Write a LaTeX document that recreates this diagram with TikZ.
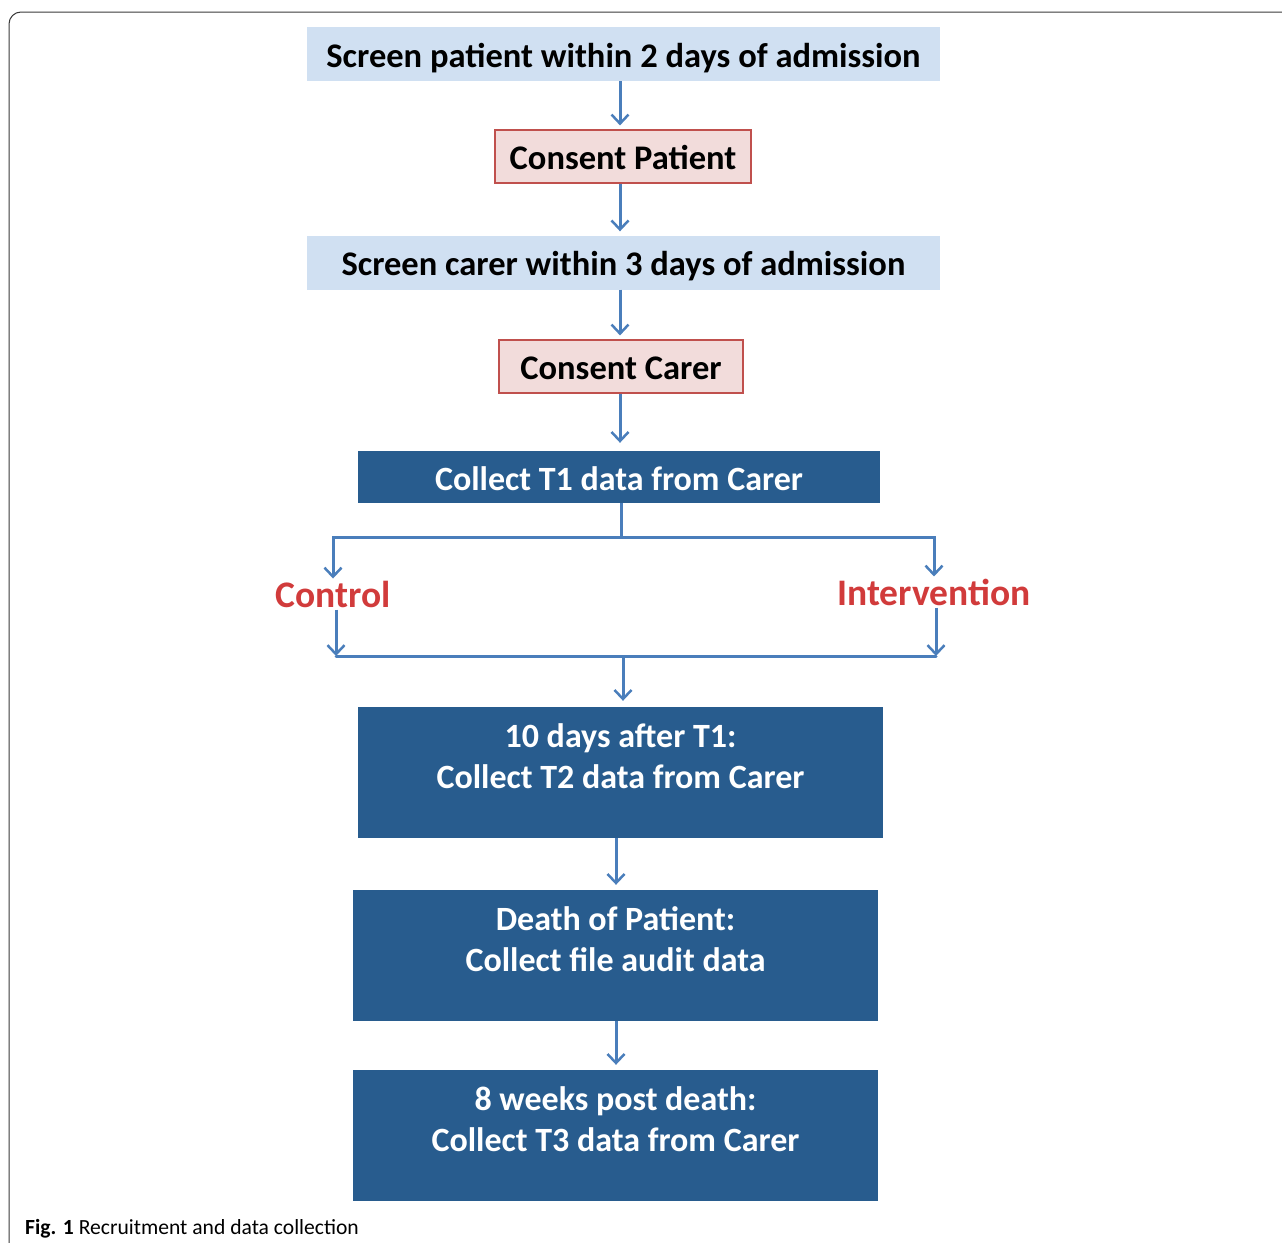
\documentclass[tikz,border=0pt]{standalone}
\usepackage{fontspec}
\setmainfont{Carlito}
\usepackage{tikz}
\usetikzlibrary{arrows.meta}
\definecolor{paleblue}{HTML}{D0E0F2}
\definecolor{palepink}{HTML}{F2DCDB}
\definecolor{boxred}{HTML}{C0504D}
\definecolor{darkblue}{HTML}{285C8E}
\definecolor{flowblue}{HTML}{4A7EBB}
\definecolor{armred}{HTML}{D13B3B}
\definecolor{frame}{HTML}{3A3A3A}

\begin{document}
\begin{tikzpicture}[x=1pt,y=-1pt,
  screen/.style={fill=paleblue, inner sep=0pt, minimum width=633pt, minimum height=54pt,
    text height=33pt, text depth=7pt, font=\fontsize{34.5}{40}\selectfont\bfseries},
  consent/.style={fill=palepink, draw=boxred, line width=1.2pt, inner sep=0pt, minimum height=53pt,
    text height=33pt, text depth=7pt, font=\fontsize{34.5}{40}\selectfont\bfseries},
  collect/.style={fill=darkblue, text=white, inner sep=0pt, minimum width=525pt,
    align=center, font=\fontsize{34}{41}\selectfont\bfseries},
  arm/.style={text=armred, inner sep=2pt, font=\fontsize{37.5}{42}\selectfont\bfseries},
  flow/.style={draw=flowblue, line width=3pt, -{Straight Barb[length=9pt,width=17pt,line width=2.5pt]}},
  link/.style={draw=flowblue, line width=3pt}]
\useasboundingbox (0,0) rectangle (1282,1242);
% figure frame, only top-left corner in view
\draw[frame, line width=1pt, rounded corners=12pt] (9,1260) -- (9,12) -- (1300,12);

% recruitment steps
\node[screen] (screenpat) at (623.5,54) {Screen patient within 2 days of admission};
\node[consent, minimum width=256pt] (consentpat) at (623,156.5) {Consent Patient};
\node[screen] (screencarer) at (623.5,262.5) {Screen carer within 3 days of admission};
\node[consent, minimum width=244pt] (consentcarer) at (621,366.5) {Consent Carer};
\node[collect, minimum width=522pt, minimum height=52pt, text height=33pt, text depth=7pt] (tone) at (619,477) {Collect T1 data from Carer};

% randomisation arms
\node[arm] (control) at (333,594) {Control};
\node[arm] (interv) at (934,592) {Intervention};

% follow-up
\node[collect, minimum height=131pt] (ttwo) at (620.5,772.5) {10 days after T1:\\Collect T2 data from Carer\\[-8pt]\mbox{}};
\node[collect, minimum height=131pt] (death) at (615.5,955.5) {Death of Patient:\\Collect file audit data\\[-8pt]\mbox{}};
\node[collect, minimum height=131pt] (tthree) at (615.5,1135.5) {8 weeks post death:\\Collect T3 data from Carer\\[-8pt]\mbox{}};

\node[anchor=base west, inner sep=0pt, font=\fontsize{21.6}{26}\selectfont] (caption) at (25,1234)
  {\textbf{Fig. 1} Recruitment and data collection};

% columns the connectors run along
\coordinate (mid) at (620,0);
\coordinate (low) at (616,0);
\coordinate (left) at (336,0);
\coordinate (right) at (936,0);

% connectors
\draw[flow, shorten >=4pt] (screenpat.south -| mid) -- (consentpat.north -| mid);
\draw[flow, shorten >=4pt] (consentpat.south -| mid) -- (screencarer.north -| mid);
\draw[flow, shorten >=4pt] (screencarer.south -| mid) -- (consentcarer.north -| mid);
\draw[flow, shorten >=8pt] (consentcarer.south -| mid) -- (tone.north -| mid);

\coordinate (split) at (621,537);
\coordinate (join) at (623,656);
\draw[link] (tone.south -| split) -- (split);
\draw[flow] (split) -| (control.north);
\draw[flow] (split) -| (interv.north);
\draw[flow] (control.south -| left) -- (join -| left);
\draw[flow] (interv.south -| right) -- (join -| right);
\draw[link, line cap=round] (join -| left) -- (join -| right);
\draw[flow, shorten >=6pt] (join) -- (join |- ttwo.north);

\draw[flow, shorten >=5pt] (ttwo.south -| low) -- (death.north -| low);
\draw[flow, shorten >=5pt] (death.south -| low) -- (tthree.north -| low);
\end{tikzpicture}
\end{document}
